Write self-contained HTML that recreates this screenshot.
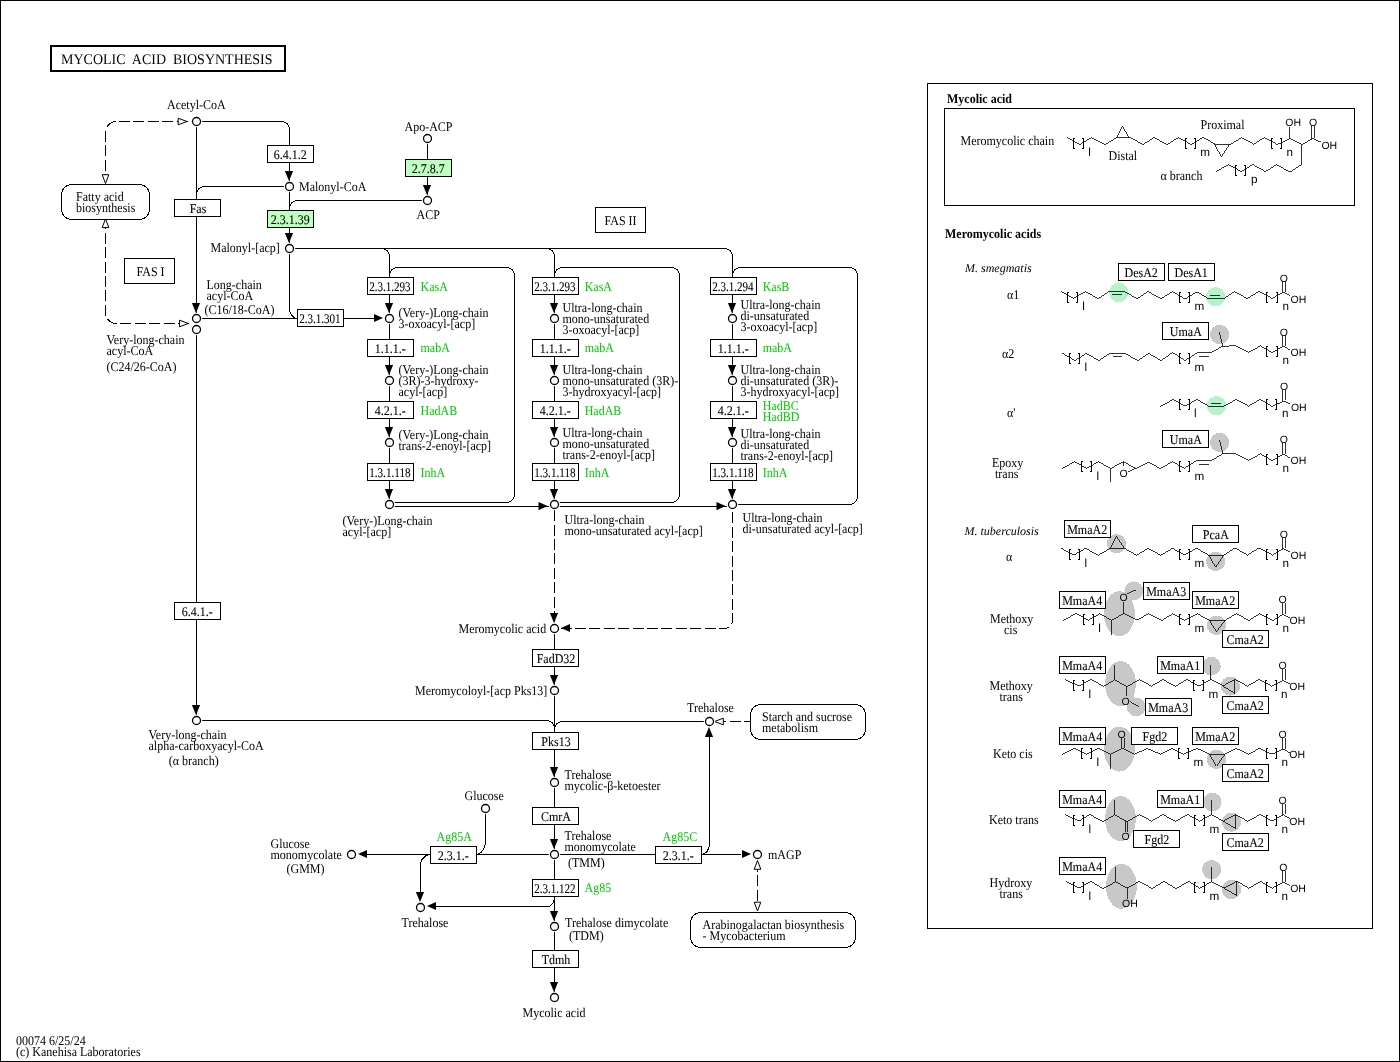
<!DOCTYPE html>
<html><head><meta charset="utf-8"><title>Mycolic acid biosynthesis</title>
<style>
html,body{margin:0;padding:0;background:#fff}
svg{display:block;will-change:transform}
text{font-family:"Liberation Serif",serif;font-size:12px;fill:#000;text-rendering:geometricPrecision}
.ti{font-size:14px}
.b{stroke:#000;stroke-width:0.08px}
.g{fill:#00cc00}
.bd{font-weight:bold}
.it{font-style:italic}
.s{font-family:"Liberation Sans",sans-serif;font-size:10.5px}
</style></head><body>
<svg width="1400" height="1062" viewBox="0 0 1400 1062" shape-rendering="crispEdges">
<rect x="0.5" y="0.5" width="1399" height="1061" fill="#fff" stroke="#000"/>
<rect x="51" y="46" width="234" height="25" fill="#fff" stroke="#000" stroke-width="2"/>
<text transform="translate(61,63.5) scale(1,1.05)" class="ti" xml:space="preserve" style="white-space:pre">MYCOLIC  ACID  BIOSYNTHESIS</text>
<text transform="translate(16,1045) scale(1,1.1)">00074 6/25/24</text>
<text transform="translate(16,1056) scale(1,1.1)">(c) Kanehisa Laboratories</text>
<path d="M187.5,121.5 L116.50,121.50 A11,11 0 0 0 105.50,132.50 L105.5,175" fill="none" stroke="#000" stroke-dasharray="11,3.4"/>
<polygon points="187.0,121.5 178.2,118.2 178.2,124.8" fill="#fff" stroke="#000" shape-rendering="geometricPrecision"/>
<polygon points="105.5,183.5 102.2,174.7 108.8,174.7" fill="#fff" stroke="#000" shape-rendering="geometricPrecision"/>
<path d="M189,323.5 L116.50,323.50 A11,11 0 0 1 105.50,312.50 L105.5,227" fill="none" stroke="#000" stroke-dasharray="11,3.4"/>
<polygon points="105.5,218.8 102.2,227.60000000000002 108.8,227.60000000000002" fill="#fff" stroke="#000" shape-rendering="geometricPrecision"/>
<polygon points="188.3,323.5 179.5,320.2 179.5,326.8" fill="#fff" stroke="#000" shape-rendering="geometricPrecision"/>
<rect x="61.5" y="184.5" width="88" height="35" rx="10" ry="10" fill="#fff" stroke="#000"/>
<text transform="translate(76,201) scale(1,1.1)">Fatty acid</text>
<text transform="translate(76,212) scale(1,1.1)">biosynthesis</text>
<path d="M196.5,121.5 L281.50,121.50 A8,8 0 0 1 289.50,129.50 L289.5,146" fill="none" stroke="#000"/>
<path d="M289.5,162 L289.5,182" fill="none" stroke="#000"/>
<path d="M196.5,121.5 L196.5,314" fill="none" stroke="#000"/>
<path d="M289.5,186.5 L204.50,186.50 A8,8 0 0 0 196.50,194.50 L196.5,200" fill="none" stroke="#000"/>
<path d="M289.5,186.5 L289.5,211" fill="none" stroke="#000"/>
<path d="M427.5,200.5 L297.50,200.50 A8,8 0 0 0 289.50,208.50 L289.5,211" fill="none" stroke="#000"/>
<path d="M427.5,138.5 L427.5,196" fill="none" stroke="#000"/>
<path d="M289.5,227 L289.5,244" fill="none" stroke="#000"/>
<path d="M289.5,248.5 L724.50,248.50 A8,8 0 0 1 732.50,256.50 L732.5,278" fill="none" stroke="#000"/>
<path d="M380,248.5 L381.50,248.50 A8,8 0 0 1 389.50,256.50 L389.5,278" fill="none" stroke="#000"/>
<path d="M545,248.5 L546.50,248.50 A8,8 0 0 1 554.50,256.50 L554.5,278" fill="none" stroke="#000"/>
<path d="M289.5,248.5 L289.50,308.50 A8,10 0 0 0 297.50,318.50 L305,318.5" fill="none" stroke="#000"/>
<path d="M196.5,318.5 L297,318.5" fill="none" stroke="#000"/>
<path d="M343,318.5 L380,318.5" fill="none" stroke="#000"/>
<path d="M196.5,329.5 L196.5,716" fill="none" stroke="#000"/>
<polygon points="289.0,181.0 284.9,171.0 293.1,171.0" fill="#000" shape-rendering="geometricPrecision"/>
<polygon points="196.0,313.0 191.9,303.0 200.1,303.0" fill="#000" shape-rendering="geometricPrecision"/>
<polygon points="427.0,195.0 422.9,185.0 431.1,185.0" fill="#000" shape-rendering="geometricPrecision"/>
<polygon points="289.0,243.0 284.9,233.0 293.1,233.0" fill="#000" shape-rendering="geometricPrecision"/>
<polygon points="383.0,318.0 374.0,313.9 374.0,322.1" fill="#000" shape-rendering="geometricPrecision"/>
<rect x="267.5" y="145.5" width="46" height="17" fill="#fff" stroke="#000"/>
<text class="b" text-anchor="middle" transform="translate(290.3,159.0) scale(1.000,1.1)">6.4.1.2</text>
<rect x="174.5" y="199.5" width="46" height="17" fill="#fff" stroke="#000"/>
<text class="b" text-anchor="middle" transform="translate(198.0,213.0) scale(1.000,1.1)">Fas</text>
<rect x="267.5" y="210.5" width="46" height="17" fill="#bfffbf" stroke="#000"/>
<text class="b" text-anchor="middle" transform="translate(290.3,224.0) scale(1.000,1.1)">2.3.1.39</text>
<rect x="405.5" y="159.5" width="46" height="17" fill="#bfffbf" stroke="#000"/>
<text class="b" text-anchor="middle" transform="translate(428.3,173.0) scale(1.000,1.1)">2.7.8.7</text>
<rect x="297.5" y="309.5" width="46" height="17" fill="#fff" stroke="#000"/>
<text class="b" text-anchor="middle" transform="translate(319.9,323.0) scale(0.922,1.1)">2.3.1.301</text>
<rect x="124.5" y="258.5" width="50" height="25" fill="#fff" stroke="#000"/>
<text transform="translate(136.5,275.5) scale(1,1.1)">FAS I</text>
<rect x="595.5" y="207.5" width="50" height="25" fill="#fff" stroke="#000"/>
<text transform="translate(604.5,224.5) scale(1,1.1)">FAS II</text>
<text transform="translate(167,109) scale(1,1.1)">Acetyl-CoA</text>
<text transform="translate(404.5,131) scale(1,1.1)">Apo-ACP</text>
<text transform="translate(416.5,218.5) scale(1,1.1)">ACP</text>
<text transform="translate(299,190.5) scale(1,1.1)">Malonyl-CoA</text>
<text transform="translate(210.5,251.5) scale(1,1.1)">Malonyl-[acp]</text>
<text transform="translate(206.5,288.5) scale(1,1.1)">Long-chain</text>
<text transform="translate(206.5,299.5) scale(1,1.1)">acyl-CoA</text>
<text transform="translate(204.5,313.5) scale(1,1.1)">(C16/18-CoA)</text>
<text transform="translate(106.5,343.5) scale(1,1.1)">Very-long-chain</text>
<text transform="translate(106.5,354.5) scale(1,1.1)">acyl-CoA</text>
<text transform="translate(106.5,371) scale(1,1.1)">(C24/26-CoA)</text>
<path d="M389.5,278 L389.50,275.50 A8,8 0 0 1 397.50,267.50 L506.50,267.50 A8,8 0 0 1 514.50,275.50 L514.50,494.50 A8,8 0 0 1 506.50,502.50 L389.5,502.5" fill="none" stroke="#000"/>
<path d="M389.5,294 L389.5,504.5" fill="none" stroke="#000"/>
<polygon points="389.0,313.0 384.9,303.0 393.1,303.0" fill="#000" shape-rendering="geometricPrecision"/>
<polygon points="389.0,375.0 384.9,365.0 393.1,365.0" fill="#000" shape-rendering="geometricPrecision"/>
<polygon points="389.0,437.0 384.9,427.0 393.1,427.0" fill="#000" shape-rendering="geometricPrecision"/>
<polygon points="389.0,499.0 384.9,489.0 393.1,489.0" fill="#000" shape-rendering="geometricPrecision"/>
<path d="M554.5,278 L554.50,275.50 A8,8 0 0 1 562.50,267.50 L671.50,267.50 A8,8 0 0 1 679.50,275.50 L679.50,494.50 A8,8 0 0 1 671.50,502.50 L554.5,502.5" fill="none" stroke="#000"/>
<path d="M554.5,294 L554.5,504.5" fill="none" stroke="#000"/>
<polygon points="554.0,313.0 549.9,303.0 558.1,303.0" fill="#000" shape-rendering="geometricPrecision"/>
<polygon points="554.0,375.0 549.9,365.0 558.1,365.0" fill="#000" shape-rendering="geometricPrecision"/>
<polygon points="554.0,437.0 549.9,427.0 558.1,427.0" fill="#000" shape-rendering="geometricPrecision"/>
<polygon points="554.0,499.0 549.9,489.0 558.1,489.0" fill="#000" shape-rendering="geometricPrecision"/>
<path d="M732.5,278 L732.50,275.50 A8,8 0 0 1 740.50,267.50 L849.50,267.50 A8,8 0 0 1 857.50,275.50 L857.50,496.50 A8,8 0 0 1 849.50,504.50 L732.5,504.5" fill="none" stroke="#000"/>
<path d="M732.5,294 L732.5,504.5" fill="none" stroke="#000"/>
<polygon points="732.0,313.0 727.9,303.0 736.1,303.0" fill="#000" shape-rendering="geometricPrecision"/>
<polygon points="732.0,375.0 727.9,365.0 736.1,365.0" fill="#000" shape-rendering="geometricPrecision"/>
<polygon points="732.0,437.0 727.9,427.0 736.1,427.0" fill="#000" shape-rendering="geometricPrecision"/>
<polygon points="732.0,499.0 727.9,489.0 736.1,489.0" fill="#000" shape-rendering="geometricPrecision"/>
<path d="M389.5,506.5 L548.5,506.5" fill="none" stroke="#000"/>
<polygon points="547.5,506.1 538.5,502.0 538.5,510.20000000000005" fill="#000" shape-rendering="geometricPrecision"/>
<path d="M554.5,506.5 L726.5,506.5" fill="none" stroke="#000"/>
<polygon points="725.5,506.1 716.5,502.0 716.5,510.20000000000005" fill="#000" shape-rendering="geometricPrecision"/>
<rect x="367.5" y="277.5" width="46" height="17" fill="#fff" stroke="#000"/>
<text class="b" text-anchor="middle" transform="translate(389.9,291.0) scale(0.922,1.1)">2.3.1.293</text>
<rect x="367.5" y="339.5" width="46" height="17" fill="#fff" stroke="#000"/>
<text class="b" text-anchor="middle" transform="translate(390.3,353.0) scale(1.000,1.1)">1.1.1.-</text>
<rect x="367.5" y="401.5" width="46" height="17" fill="#fff" stroke="#000"/>
<text class="b" text-anchor="middle" transform="translate(390.3,415.0) scale(1.000,1.1)">4.2.1.-</text>
<rect x="367.5" y="463.5" width="46" height="17" fill="#fff" stroke="#000"/>
<text class="b" text-anchor="middle" transform="translate(389.9,477.0) scale(0.931,1.1)">1.3.1.118</text>
<rect x="532.5" y="277.5" width="46" height="17" fill="#fff" stroke="#000"/>
<text class="b" text-anchor="middle" transform="translate(554.9,291.0) scale(0.922,1.1)">2.3.1.293</text>
<rect x="532.5" y="339.5" width="46" height="17" fill="#fff" stroke="#000"/>
<text class="b" text-anchor="middle" transform="translate(555.3,353.0) scale(1.000,1.1)">1.1.1.-</text>
<rect x="532.5" y="401.5" width="46" height="17" fill="#fff" stroke="#000"/>
<text class="b" text-anchor="middle" transform="translate(555.3,415.0) scale(1.000,1.1)">4.2.1.-</text>
<rect x="532.5" y="463.5" width="46" height="17" fill="#fff" stroke="#000"/>
<text class="b" text-anchor="middle" transform="translate(554.9,477.0) scale(0.931,1.1)">1.3.1.118</text>
<rect x="710.5" y="277.5" width="46" height="17" fill="#fff" stroke="#000"/>
<text class="b" text-anchor="middle" transform="translate(732.9,291.0) scale(0.922,1.1)">2.3.1.294</text>
<rect x="710.5" y="339.5" width="46" height="17" fill="#fff" stroke="#000"/>
<text class="b" text-anchor="middle" transform="translate(733.3,353.0) scale(1.000,1.1)">1.1.1.-</text>
<rect x="710.5" y="401.5" width="46" height="17" fill="#fff" stroke="#000"/>
<text class="b" text-anchor="middle" transform="translate(733.3,415.0) scale(1.000,1.1)">4.2.1.-</text>
<rect x="710.5" y="463.5" width="46" height="17" fill="#fff" stroke="#000"/>
<text class="b" text-anchor="middle" transform="translate(732.9,477.0) scale(0.931,1.1)">1.3.1.118</text>
<text transform="translate(420.5,290.5) scale(1,1.1)" class="g">KasA</text>
<text transform="translate(420.5,351.5) scale(1,1.1)" class="g">mabA</text>
<text transform="translate(420.5,414.5) scale(1,1.1)" class="g">HadAB</text>
<text transform="translate(420.5,476.5) scale(1,1.1)" class="g">InhA</text>
<text transform="translate(584.7,290.5) scale(1,1.1)" class="g">KasA</text>
<text transform="translate(584.7,351.5) scale(1,1.1)" class="g">mabA</text>
<text transform="translate(584.7,414.5) scale(1,1.1)" class="g">HadAB</text>
<text transform="translate(584.7,476.5) scale(1,1.1)" class="g">InhA</text>
<text transform="translate(762.7,290.5) scale(1,1.1)" class="g">KasB</text>
<text transform="translate(762.7,351.5) scale(1,1.1)" class="g">mabA</text>
<text transform="translate(762.7,476.5) scale(1,1.1)" class="g">InhA</text>
<text transform="translate(762.7,410) scale(1,1.1)" class="g">HadBC</text>
<text transform="translate(762.7,421) scale(1,1.1)" class="g">HadBD</text>
<text transform="translate(398.5,317) scale(1,1.1)">(Very-)Long-chain</text>
<text transform="translate(398.5,328) scale(1,1.1)">3-oxoacyl-[acp]</text>
<text transform="translate(398.5,374) scale(1,1.1)">(Very-)Long-chain</text>
<text transform="translate(398.5,385) scale(1,1.1)">(3R)-3-hydroxy-</text>
<text transform="translate(398.5,396) scale(1,1.1)">acyl-[acp]</text>
<text transform="translate(398.5,438.5) scale(1,1.1)">(Very-)Long-chain</text>
<text transform="translate(398.5,449.5) scale(1,1.1)">trans-2-enoyl-[acp]</text>
<text transform="translate(342.5,524.5) scale(1,1.1)">(Very-)Long-chain</text>
<text transform="translate(342.5,535.5) scale(1,1.1)">acyl-[acp]</text>
<text transform="translate(562.5,312) scale(1,1.1)">Ultra-long-chain</text>
<text transform="translate(562.5,323) scale(1,1.1)">mono-unsaturated</text>
<text transform="translate(562.5,334) scale(1,1.1)">3-oxoacyl-[acp]</text>
<text transform="translate(562.5,374) scale(1,1.1)">Ultra-long-chain</text>
<text transform="translate(562.5,385) scale(1,1.1)">mono-unsaturated (3R)-</text>
<text transform="translate(562.5,396) scale(1,1.1)">3-hydroxyacyl-[acp]</text>
<text transform="translate(562.5,437) scale(1,1.1)">Ultra-long-chain</text>
<text transform="translate(562.5,448) scale(1,1.1)">mono-unsaturated</text>
<text transform="translate(562.5,459) scale(1,1.1)">trans-2-enoyl-[acp]</text>
<text transform="translate(564.5,524) scale(1,1.1)">Ultra-long-chain</text>
<text transform="translate(564.5,535) scale(1,1.1)">mono-unsaturated acyl-[acp]</text>
<text transform="translate(740.5,309) scale(1,1.1)">Ultra-long-chain</text>
<text transform="translate(740.5,320) scale(1,1.1)">di-unsaturated</text>
<text transform="translate(740.5,331) scale(1,1.1)">3-oxoacyl-[acp]</text>
<text transform="translate(740.5,374) scale(1,1.1)">Ultra-long-chain</text>
<text transform="translate(740.5,385) scale(1,1.1)">di-unsaturated (3R)-</text>
<text transform="translate(740.5,396) scale(1,1.1)">3-hydroxyacyl-[acp]</text>
<text transform="translate(740.5,437.5) scale(1,1.1)">Ultra-long-chain</text>
<text transform="translate(740.5,448.5) scale(1,1.1)">di-unsaturated</text>
<text transform="translate(740.5,459.5) scale(1,1.1)">trans-2-enoyl-[acp]</text>
<text transform="translate(742.5,522) scale(1,1.1)">Ultra-long-chain</text>
<text transform="translate(742.5,533) scale(1,1.1)">di-unsaturated acyl-[acp]</text>
<path d="M554.5,622 L554.5,509" fill="none" stroke="#000" stroke-dasharray="11,3.4"/>
<path d="M560.5,628.5 L724.50,628.50 A8,8 0 0 0 732.50,620.50 L732.5,509" fill="none" stroke="#000" stroke-dasharray="11,3.4"/>
<polygon points="554.0,623.0 549.9,613.0 558.1,613.0" fill="#000" shape-rendering="geometricPrecision"/>
<polygon points="561.0,628.0 570.0,623.9 570.0,632.1" fill="#000" shape-rendering="geometricPrecision"/>
<path d="M554.5,628.5 L554.5,686" fill="none" stroke="#000"/>
<polygon points="554.0,685.0 549.9,675.0 558.1,675.0" fill="#000" shape-rendering="geometricPrecision"/>
<path d="M554.5,690.5 L554.5,733" fill="none" stroke="#000"/>
<path d="M196.5,720.5 L546.50,720.50 A8,8 0 0 1 554.50,728.50 L554.5,733" fill="none" stroke="#000"/>
<path d="M709.5,721.5 L562.50,721.50 A8,8 0 0 0 554.50,729.50 L554.5,733" fill="none" stroke="#000"/>
<path d="M554.5,749 L554.5,778" fill="none" stroke="#000"/>
<polygon points="554.0,777.0 549.9,767.0 558.1,767.0" fill="#000" shape-rendering="geometricPrecision"/>
<path d="M554.5,782.5 L554.5,850" fill="none" stroke="#000"/>
<polygon points="554.0,849.0 549.9,839.0 558.1,839.0" fill="#000" shape-rendering="geometricPrecision"/>
<path d="M554.5,854.5 L554.5,922" fill="none" stroke="#000"/>
<polygon points="554.0,921.0 549.9,911.0 558.1,911.0" fill="#000" shape-rendering="geometricPrecision"/>
<path d="M554.5,926.5 L554.5,993" fill="none" stroke="#000"/>
<polygon points="554.0,992.0 549.9,982.0 558.1,982.0" fill="#000" shape-rendering="geometricPrecision"/>
<polygon points="196.0,715.0 191.9,705.0 200.1,705.0" fill="#000" shape-rendering="geometricPrecision"/>
<path d="M367,854.5 L741,854.5" fill="none" stroke="#000"/>
<polygon points="358.0,854.0 367.0,849.9 367.0,858.1" fill="#000" shape-rendering="geometricPrecision"/>
<polygon points="751.0,854.0 742.0,849.9 742.0,858.1" fill="#000" shape-rendering="geometricPrecision"/>
<path d="M485.5,808.5 L485.50,841.50 A10,13 0 0 1 475.50,854.50 L470,854.5" fill="none" stroke="#000"/>
<path d="M436,854.5 L431.00,854.50 A10.5,10.5 0 0 0 420.50,865.00 L420.5,892" fill="none" stroke="#000"/>
<polygon points="420.0,902.0 415.9,892.0 424.1,892.0" fill="#000" shape-rendering="geometricPrecision"/>
<path d="M554.5,894 L554.50,896.50 A6.5,10 0 0 1 548.00,906.50 L435,906.5" fill="none" stroke="#000"/>
<polygon points="427.0,906.0 436.0,901.9 436.0,910.1" fill="#000" shape-rendering="geometricPrecision"/>
<path d="M695,854.5 L701.00,854.50 A8.5,10.5 0 0 0 709.50,844.00 L709.5,736" fill="none" stroke="#000"/>
<polygon points="709.0,727.0 704.9,737.0 713.1,737.0" fill="#000" shape-rendering="geometricPrecision"/>
<path d="M715.4,721.5 L750,721.5" fill="none" stroke="#000" stroke-dasharray="11,3.4"/>
<polygon points="714.5,721.5 723.3,718.2 723.3,724.8" fill="#fff" stroke="#000" shape-rendering="geometricPrecision"/>
<path d="M757.5,861 L757.5,902" fill="none" stroke="#000" stroke-dasharray="11,3.4"/>
<polygon points="757.5,860.5 754.2,869.3 760.8,869.3" fill="#fff" stroke="#000" shape-rendering="geometricPrecision"/>
<polygon points="757.5,911.0 754.2,902.2 760.8,902.2" fill="#fff" stroke="#000" shape-rendering="geometricPrecision"/>
<rect x="750.5" y="704.5" width="115" height="35" rx="10" ry="10" fill="#fff" stroke="#000"/>
<text transform="translate(762,721) scale(1,1.1)">Starch and sucrose</text>
<text transform="translate(762,732) scale(1,1.1)">metabolism</text>
<rect x="690.5" y="912.5" width="165" height="35" rx="10" ry="10" fill="#fff" stroke="#000"/>
<text transform="translate(702.5,928.5) scale(1,1.1)">Arabinogalactan biosynthesis</text>
<text transform="translate(702.5,939.5) scale(1,1.1)">- Mycobacterium</text>
<rect x="174.5" y="602.5" width="46" height="17" fill="#fff" stroke="#000"/>
<text class="b" text-anchor="middle" transform="translate(197.3,616.0) scale(1.000,1.1)">6.4.1.-</text>
<rect x="532.5" y="649.5" width="46" height="17" fill="#fff" stroke="#000"/>
<text class="b" text-anchor="middle" transform="translate(556.0,663.0) scale(1.000,1.1)">FadD32</text>
<rect x="532.5" y="732.5" width="46" height="17" fill="#fff" stroke="#000"/>
<text class="b" text-anchor="middle" transform="translate(556.0,746.0) scale(1.000,1.1)">Pks13</text>
<rect x="532.5" y="807.5" width="46" height="17" fill="#fff" stroke="#000"/>
<text class="b" text-anchor="middle" transform="translate(556.0,821.0) scale(1.000,1.1)">CmrA</text>
<rect x="532.5" y="879.5" width="46" height="17" fill="#fff" stroke="#000"/>
<text class="b" text-anchor="middle" transform="translate(554.9,893.0) scale(0.922,1.1)">2.3.1.122</text>
<rect x="532.5" y="950.5" width="46" height="17" fill="#fff" stroke="#000"/>
<text class="b" text-anchor="middle" transform="translate(556.0,964.0) scale(1.000,1.1)">Tdmh</text>
<rect x="430.5" y="846.5" width="46" height="17" fill="#fff" stroke="#000"/>
<text class="b" text-anchor="middle" transform="translate(453.3,860.0) scale(1.000,1.1)">2.3.1.-</text>
<rect x="655.5" y="846.5" width="46" height="17" fill="#fff" stroke="#000"/>
<text class="b" text-anchor="middle" transform="translate(678.3,860.0) scale(1.000,1.1)">2.3.1.-</text>
<text transform="translate(458.5,632.5) scale(1,1.1)">Meromycolic acid</text>
<text transform="translate(415,694.5) scale(1,1.1)">Meromycoloyl-[acp Pks13]</text>
<text transform="translate(148.5,738.5) scale(1,1.1)">Very-long-chain</text>
<text transform="translate(148.5,749.5) scale(1,1.1)">alpha-carboxyacyl-CoA</text>
<text transform="translate(168.7,764.5) scale(1,1.1)">(α branch)</text>
<text transform="translate(687,712) scale(1,1.1)">Trehalose</text>
<text transform="translate(564.5,778.5) scale(1,1.1)">Trehalose</text>
<text transform="translate(564.5,789.5) scale(1,1.1)">mycolic-β-ketoester</text>
<text transform="translate(564.5,839.5) scale(1,1.1)">Trehalose</text>
<text transform="translate(564.5,850.5) scale(1,1.1)">monomycolate</text>
<text transform="translate(568,866.5) scale(1,1.1)">(TMM)</text>
<text transform="translate(464.5,799.5) scale(1,1.1)">Glucose</text>
<text transform="translate(436.5,840.5) scale(1,1.1)" class="g">Ag85A</text>
<text transform="translate(662.5,840.5) scale(1,1.1)" class="g">Ag85C</text>
<text transform="translate(584.5,891.5) scale(1,1.1)" class="g">Ag85</text>
<text transform="translate(270.5,847.5) scale(1,1.1)">Glucose</text>
<text transform="translate(270.5,858.5) scale(1,1.1)">monomycolate</text>
<text transform="translate(286.5,872.5) scale(1,1.1)">(GMM)</text>
<text transform="translate(401.5,926.5) scale(1,1.1)">Trehalose</text>
<text transform="translate(768,858.5) scale(1,1.1)">mAGP</text>
<text transform="translate(565,927) scale(1,1.1)">Trehalose dimycolate</text>
<text transform="translate(569,940) scale(1,1.1)">(TDM)</text>
<text transform="translate(522.5,1016.5) scale(1,1.1)">Mycolic acid</text>
<circle cx="196.5" cy="121.5" r="5.7" fill="#fff" shape-rendering="geometricPrecision"/>
<circle cx="196.5" cy="121.5" r="4" fill="#fff" stroke="#000" stroke-width="1.3" shape-rendering="geometricPrecision"/>
<circle cx="289.5" cy="186.5" r="5.7" fill="#fff" shape-rendering="geometricPrecision"/>
<circle cx="289.5" cy="186.5" r="4" fill="#fff" stroke="#000" stroke-width="1.3" shape-rendering="geometricPrecision"/>
<circle cx="427.5" cy="138.5" r="5.7" fill="#fff" shape-rendering="geometricPrecision"/>
<circle cx="427.5" cy="138.5" r="4" fill="#fff" stroke="#000" stroke-width="1.3" shape-rendering="geometricPrecision"/>
<circle cx="427.5" cy="200.5" r="5.7" fill="#fff" shape-rendering="geometricPrecision"/>
<circle cx="427.5" cy="200.5" r="4" fill="#fff" stroke="#000" stroke-width="1.3" shape-rendering="geometricPrecision"/>
<circle cx="289.5" cy="248.5" r="5.7" fill="#fff" shape-rendering="geometricPrecision"/>
<circle cx="289.5" cy="248.5" r="4" fill="#fff" stroke="#000" stroke-width="1.3" shape-rendering="geometricPrecision"/>
<circle cx="196.5" cy="318.5" r="5.7" fill="#fff" shape-rendering="geometricPrecision"/>
<circle cx="196.5" cy="318.5" r="4" fill="#fff" stroke="#000" stroke-width="1.3" shape-rendering="geometricPrecision"/>
<circle cx="196.5" cy="329.5" r="5.7" fill="#fff" shape-rendering="geometricPrecision"/>
<circle cx="196.5" cy="329.5" r="4" fill="#fff" stroke="#000" stroke-width="1.3" shape-rendering="geometricPrecision"/>
<circle cx="554.5" cy="628.5" r="5.7" fill="#fff" shape-rendering="geometricPrecision"/>
<circle cx="554.5" cy="628.5" r="4" fill="#fff" stroke="#000" stroke-width="1.3" shape-rendering="geometricPrecision"/>
<circle cx="554.5" cy="690.5" r="5.7" fill="#fff" shape-rendering="geometricPrecision"/>
<circle cx="554.5" cy="690.5" r="4" fill="#fff" stroke="#000" stroke-width="1.3" shape-rendering="geometricPrecision"/>
<circle cx="196.5" cy="720.5" r="5.7" fill="#fff" shape-rendering="geometricPrecision"/>
<circle cx="196.5" cy="720.5" r="4" fill="#fff" stroke="#000" stroke-width="1.3" shape-rendering="geometricPrecision"/>
<circle cx="709.5" cy="721.5" r="5.7" fill="#fff" shape-rendering="geometricPrecision"/>
<circle cx="709.5" cy="721.5" r="4" fill="#fff" stroke="#000" stroke-width="1.3" shape-rendering="geometricPrecision"/>
<circle cx="554.5" cy="782.5" r="5.7" fill="#fff" shape-rendering="geometricPrecision"/>
<circle cx="554.5" cy="782.5" r="4" fill="#fff" stroke="#000" stroke-width="1.3" shape-rendering="geometricPrecision"/>
<circle cx="485.5" cy="808.5" r="5.7" fill="#fff" shape-rendering="geometricPrecision"/>
<circle cx="485.5" cy="808.5" r="4" fill="#fff" stroke="#000" stroke-width="1.3" shape-rendering="geometricPrecision"/>
<circle cx="554.5" cy="854.5" r="5.7" fill="#fff" shape-rendering="geometricPrecision"/>
<circle cx="554.5" cy="854.5" r="4" fill="#fff" stroke="#000" stroke-width="1.3" shape-rendering="geometricPrecision"/>
<circle cx="351.5" cy="854.5" r="5.7" fill="#fff" shape-rendering="geometricPrecision"/>
<circle cx="351.5" cy="854.5" r="4" fill="#fff" stroke="#000" stroke-width="1.3" shape-rendering="geometricPrecision"/>
<circle cx="757.5" cy="854.5" r="5.7" fill="#fff" shape-rendering="geometricPrecision"/>
<circle cx="757.5" cy="854.5" r="4" fill="#fff" stroke="#000" stroke-width="1.3" shape-rendering="geometricPrecision"/>
<circle cx="420.5" cy="907.5" r="5.7" fill="#fff" shape-rendering="geometricPrecision"/>
<circle cx="420.5" cy="907.5" r="4" fill="#fff" stroke="#000" stroke-width="1.3" shape-rendering="geometricPrecision"/>
<circle cx="554.5" cy="926.5" r="5.7" fill="#fff" shape-rendering="geometricPrecision"/>
<circle cx="554.5" cy="926.5" r="4" fill="#fff" stroke="#000" stroke-width="1.3" shape-rendering="geometricPrecision"/>
<circle cx="554.5" cy="997.5" r="5.7" fill="#fff" shape-rendering="geometricPrecision"/>
<circle cx="554.5" cy="997.5" r="4" fill="#fff" stroke="#000" stroke-width="1.3" shape-rendering="geometricPrecision"/>
<circle cx="389.5" cy="318.5" r="5.7" fill="#fff" shape-rendering="geometricPrecision"/>
<circle cx="389.5" cy="318.5" r="4" fill="#fff" stroke="#000" stroke-width="1.3" shape-rendering="geometricPrecision"/>
<circle cx="389.5" cy="380.5" r="5.7" fill="#fff" shape-rendering="geometricPrecision"/>
<circle cx="389.5" cy="380.5" r="4" fill="#fff" stroke="#000" stroke-width="1.3" shape-rendering="geometricPrecision"/>
<circle cx="389.5" cy="442.5" r="5.7" fill="#fff" shape-rendering="geometricPrecision"/>
<circle cx="389.5" cy="442.5" r="4" fill="#fff" stroke="#000" stroke-width="1.3" shape-rendering="geometricPrecision"/>
<circle cx="389.5" cy="504.5" r="5.7" fill="#fff" shape-rendering="geometricPrecision"/>
<circle cx="389.5" cy="504.5" r="4" fill="#fff" stroke="#000" stroke-width="1.3" shape-rendering="geometricPrecision"/>
<circle cx="554.5" cy="318.5" r="5.7" fill="#fff" shape-rendering="geometricPrecision"/>
<circle cx="554.5" cy="318.5" r="4" fill="#fff" stroke="#000" stroke-width="1.3" shape-rendering="geometricPrecision"/>
<circle cx="554.5" cy="380.5" r="5.7" fill="#fff" shape-rendering="geometricPrecision"/>
<circle cx="554.5" cy="380.5" r="4" fill="#fff" stroke="#000" stroke-width="1.3" shape-rendering="geometricPrecision"/>
<circle cx="554.5" cy="442.5" r="5.7" fill="#fff" shape-rendering="geometricPrecision"/>
<circle cx="554.5" cy="442.5" r="4" fill="#fff" stroke="#000" stroke-width="1.3" shape-rendering="geometricPrecision"/>
<circle cx="554.5" cy="504.5" r="5.7" fill="#fff" shape-rendering="geometricPrecision"/>
<circle cx="554.5" cy="504.5" r="4" fill="#fff" stroke="#000" stroke-width="1.3" shape-rendering="geometricPrecision"/>
<circle cx="732.5" cy="318.5" r="5.7" fill="#fff" shape-rendering="geometricPrecision"/>
<circle cx="732.5" cy="318.5" r="4" fill="#fff" stroke="#000" stroke-width="1.3" shape-rendering="geometricPrecision"/>
<circle cx="732.5" cy="380.5" r="5.7" fill="#fff" shape-rendering="geometricPrecision"/>
<circle cx="732.5" cy="380.5" r="4" fill="#fff" stroke="#000" stroke-width="1.3" shape-rendering="geometricPrecision"/>
<circle cx="732.5" cy="442.5" r="5.7" fill="#fff" shape-rendering="geometricPrecision"/>
<circle cx="732.5" cy="442.5" r="4" fill="#fff" stroke="#000" stroke-width="1.3" shape-rendering="geometricPrecision"/>
<circle cx="732.5" cy="504.5" r="5.7" fill="#fff" shape-rendering="geometricPrecision"/>
<circle cx="732.5" cy="504.5" r="4" fill="#fff" stroke="#000" stroke-width="1.3" shape-rendering="geometricPrecision"/>
<rect x="927.5" y="83.5" width="445" height="845" fill="#fff" stroke="#000"/>
<rect x="944.5" y="108.5" width="410" height="97" fill="#fff" stroke="#000"/>
<text transform="translate(947,103) scale(1,1.1)" class="bd">Mycolic acid</text>
<text transform="translate(945,238) scale(1,1.1)" class="bd">Meromycolic acids</text>
<text transform="translate(960.5,145) scale(1,1.1)">Meromycolic chain</text>
<text transform="translate(1200.5,129) scale(1,1.1)">Proximal</text>
<text transform="translate(1108.5,160) scale(1,1.1)">Distal</text>
<text transform="translate(1160.5,180) scale(1,1.1)">α branch</text>
<text transform="translate(965,272) scale(1,1)" class="it">M. smegmatis</text>
<text transform="translate(964.5,535) scale(1,1)" class="it">M. tuberculosis</text>
<text transform="translate(1007,299) scale(1,1.1)">α1</text>
<text transform="translate(1002,358) scale(1,1.1)">α2</text>
<text transform="translate(1007,417) scale(1,1.1)">α'</text>
<text transform="translate(992,467) scale(1,1.1)">Epoxy</text>
<text transform="translate(995,478) scale(1,1.1)">trans</text>
<text transform="translate(1006,561) scale(1,1.1)">α</text>
<text transform="translate(990,623) scale(1,1.1)">Methoxy</text>
<text transform="translate(1004,634) scale(1,1.1)">cis</text>
<text transform="translate(989.5,690) scale(1,1.1)">Methoxy</text>
<text transform="translate(999.5,701) scale(1,1.1)">trans</text>
<text transform="translate(993,758) scale(1,1.1)">Keto cis</text>
<text transform="translate(989,824) scale(1,1.1)">Keto trans</text>
<text transform="translate(989.5,887) scale(1,1.1)">Hydroxy</text>
<text transform="translate(999.5,898) scale(1,1.1)">trans</text>
<circle cx="1118.6" cy="292.5" r="9.6" fill="#b4f5c8"/>
<circle cx="1215.6" cy="296.8" r="9.6" fill="#b4f5c8"/>
<circle cx="1219.6" cy="334.5" r="9.6" fill="#c8c8c8"/>
<circle cx="1216.5" cy="405.6" r="9.6" fill="#b4f5c8"/>
<circle cx="1219.7" cy="442.5" r="9.6" fill="#c8c8c8"/>
<circle cx="1116.5" cy="543.7" r="9.6" fill="#c8c8c8"/>
<circle cx="1215.6" cy="561.4" r="9.6" fill="#c8c8c8"/>
<ellipse cx="1119.4" cy="613.7" rx="15.4" ry="22.5" fill="#c8c8c8"/>
<circle cx="1133.8" cy="590.8" r="9.4" fill="#c8c8c8"/>
<path d="M1124,600 L1133,592" stroke="#c8c8c8" stroke-width="11" stroke-linecap="round" shape-rendering="geometricPrecision"/>
<circle cx="1216.5" cy="625.3" r="9.6" fill="#c8c8c8"/>
<ellipse cx="1120.5" cy="683.6" rx="15.4" ry="22.5" fill="#c8c8c8"/>
<circle cx="1136.2" cy="706.9" r="9.4" fill="#c8c8c8"/>
<path d="M1126,697 L1135,705" stroke="#c8c8c8" stroke-width="11" stroke-linecap="round" shape-rendering="geometricPrecision"/>
<circle cx="1211.5" cy="666.2" r="9.3" fill="#c8c8c8"/>
<circle cx="1230.4" cy="686.1" r="9.6" fill="#c8c8c8"/>
<ellipse cx="1119.4" cy="749.1" rx="15.4" ry="22.5" fill="#c8c8c8"/>
<circle cx="1216.5" cy="759.4" r="9.6" fill="#c8c8c8"/>
<ellipse cx="1120.5" cy="818.6" rx="15.4" ry="22.5" fill="#c8c8c8"/>
<circle cx="1212.3" cy="802.1" r="9.3" fill="#c8c8c8"/>
<circle cx="1231.5" cy="822.2" r="9.6" fill="#c8c8c8"/>
<ellipse cx="1121.4" cy="886.3" rx="15.4" ry="22.5" fill="#c8c8c8"/>
<circle cx="1211.6" cy="869.6" r="9.6" fill="#c8c8c8"/>
<circle cx="1231.5" cy="889.5" r="9.6" fill="#c8c8c8"/>
<path d="M1067.2,137.3 L1079.8,144.5 L1091.4,137.6 L1104.5,144.5 L1115.7,137.5 L1130.2,137.5 L1143.0,144.5 L1154.0,137.6 L1167.1,144.5 L1178.4,137.6 L1191.3,144.5 L1202.5,137.6 L1214.5,144.3 L1229.5,144.3 L1240.5,137.6 L1253.3,144.5 L1264.3,137.6 L1277.4,144.5 L1289.5,138.7 L1301.6,144.8 L1312.5,138.7 L1321.0,142.7" fill="none" stroke="#000" stroke-width="0.8"/>
<path d="M1116.8,137.5 L1122.5,126.3 L1128.9,137.5" fill="none" stroke="#000" stroke-width="0.8"/>
<path d="M1214.5,144.3 L1221.4,156.6 L1229.5,144.3" fill="none" stroke="#000" stroke-width="0.8"/>
<path d="M1289.5,138.7 L1289.5,127.1" fill="none" stroke="#000" stroke-width="0.8"/>
<text class="s" x="1285.3" y="126.0">OH</text>
<path d="M1311.4,138.7 L1311.4,126.0" fill="none" stroke="#000" stroke-width="0.8"/>
<path d="M1314.6,138.2 L1314.6,126.0" fill="none" stroke="#000" stroke-width="0.8"/>
<text class="s" x="1313.2" y="125.6" text-anchor="middle">O</text>
<text class="s" x="1321.4" y="149.0">OH</text>
<path d="M1301.6,144.8 L1301.6,164.6 L1290.0,172.1 L1276.6,164.6 L1265.4,171.6 L1252.8,164.6 L1241.3,171.6 L1228.4,164.6 L1216.1,171.6" fill="none" stroke="#000" stroke-width="0.8"/>
<path d="M1075.1,138.5 H1073.5 V148.5 H1075.1 M1081.9,138.5 H1083.5 V148.5 H1081.9" fill="none" stroke="#000"/>
<text class="s" x="1088.3" y="155.5" style="font-size:11.7px">l</text>
<path d="M1187.1,138.5 H1185.5 V148.5 H1187.1 M1193.9,138.5 H1195.5 V148.5 H1193.9" fill="none" stroke="#000"/>
<text class="s" x="1200.3" y="155.5" style="font-size:11.7px">m</text>
<path d="M1273.1,138.5 H1271.5 V148.5 H1273.1 M1279.9,138.5 H1281.5 V148.5 H1279.9" fill="none" stroke="#000"/>
<text class="s" x="1286.6" y="155.5" style="font-size:11.7px">n</text>
<path d="M1237.1,165.5 H1235.5 V175.5 H1237.1 M1243.9,165.5 H1245.5 V175.5 H1243.9" fill="none" stroke="#000"/>
<text class="s" x="1251.0" y="183.0" style="font-size:11.7px">p</text>
<path d="M1061.3,291.4 L1073.6,298.4 L1085.4,291.6 L1098.2,298.6 L1109.1,291.6 L1124.7,291.6 L1137.0,298.6 L1148.0,291.6 L1160.9,298.6 L1172.7,291.6 L1184.5,298.6 L1196.6,291.6 L1208.1,298.4 L1223.9,298.4 L1234.6,291.6 L1247.3,298.6 L1258.5,291.6 L1272.1,298.4 L1283.4,292.0" fill="none" stroke="#000" stroke-width="0.8"/>
<path d="M1111.9,294.6 L1121.8,294.6" fill="none" stroke="#000" stroke-width="0.8"/>
<path d="M1210.3,295.5 L1219.9,295.5" fill="none" stroke="#000" stroke-width="0.8"/>
<path d="M1282.3,292.0 L1282.3,281.0" fill="none" stroke="#000" stroke-width="0.8"/>
<path d="M1285.5,291.5 L1285.5,281.0" fill="none" stroke="#000" stroke-width="0.8"/>
<text class="s" x="1283.8" y="282.1" text-anchor="middle">O</text>
<path d="M1283.4,292.0 L1289.8,295.5" fill="none" stroke="#000" stroke-width="0.8"/>
<text class="s" x="1290.6" y="302.7">OH</text>
<path d="M1069.1,292.5 H1067.5 V302.5 H1069.1 M1075.9,292.5 H1077.5 V302.5 H1075.9" fill="none" stroke="#000"/>
<text class="s" x="1082.2" y="309.6" style="font-size:11.7px">l</text>
<path d="M1181.1,292.5 H1179.5 V302.5 H1181.1 M1187.9,292.5 H1189.5 V302.5 H1187.9" fill="none" stroke="#000"/>
<text class="s" x="1194.6" y="309.6" style="font-size:11.7px">m</text>
<path d="M1268.1,292.5 H1266.5 V302.5 H1268.1 M1275.9,292.5 H1277.5 V302.5 H1275.9" fill="none" stroke="#000"/>
<text class="s" x="1282.5" y="309.6" style="font-size:11.7px">n</text>
<path d="M1062.0,353.0 L1074.9,360.5 L1086.4,353.4 L1098.8,360.5 L1110.2,353.3 L1124.7,353.3 L1137.9,360.5 L1148.6,353.4 L1160.9,360.5 L1172.7,352.5 L1185.0,360.5 L1197.7,352.5 L1211.6,352.5 L1222.6,346.1 L1235.9,345.9 L1248.6,352.5 L1260.4,345.9 L1272.1,352.5 L1283.4,346.3" fill="none" stroke="#000" stroke-width="0.8"/>
<path d="M1113.2,356.5 L1121.8,356.5" fill="none" stroke="#000" stroke-width="0.8"/>
<path d="M1199.1,356.5 L1208.9,356.5" fill="none" stroke="#000" stroke-width="0.8"/>
<path d="M1222.6,346.1 L1219.4,332.1" fill="none" stroke="#000" stroke-width="0.8"/>
<path d="M1282.3,346.3 L1282.3,335.3" fill="none" stroke="#000" stroke-width="0.8"/>
<path d="M1285.5,345.8 L1285.5,335.3" fill="none" stroke="#000" stroke-width="0.8"/>
<text class="s" x="1283.8" y="335.7" text-anchor="middle">O</text>
<path d="M1283.4,346.3 L1289.8,349.8" fill="none" stroke="#000" stroke-width="0.8"/>
<text class="s" x="1290.6" y="356.3">OH</text>
<path d="M1071.1,353.5 H1069.5 V363.5 H1071.1 M1077.9,353.5 H1079.5 V363.5 H1077.9" fill="none" stroke="#000"/>
<text class="s" x="1084.4" y="370.7" style="font-size:11.7px">l</text>
<path d="M1181.1,353.5 H1179.5 V363.5 H1181.1 M1187.9,353.5 H1189.5 V363.5 H1187.9" fill="none" stroke="#000"/>
<text class="s" x="1194.6" y="370.7" style="font-size:11.7px">m</text>
<path d="M1268.1,346.5 H1266.5 V356.5 H1268.1 M1275.9,346.5 H1277.5 V356.5 H1275.9" fill="none" stroke="#000"/>
<text class="s" x="1282.5" y="363.8" style="font-size:11.7px">n</text>
<path d="M1160.3,406.6 L1172.5,399.8 L1184.7,406.3 L1196.5,399.8 L1208.1,406.3 L1223.9,406.3 L1235.5,399.8 L1248.0,406.3 L1259.5,399.8 L1271.5,406.3 L1283.7,400.6" fill="none" stroke="#000" stroke-width="0.8"/>
<path d="M1211.1,403.4 L1220.7,403.4" fill="none" stroke="#000" stroke-width="0.8"/>
<path d="M1282.6,400.6 L1282.6,389.6" fill="none" stroke="#000" stroke-width="0.8"/>
<path d="M1285.8,400.1 L1285.8,389.6" fill="none" stroke="#000" stroke-width="0.8"/>
<text class="s" x="1284.1" y="390.4" text-anchor="middle">O</text>
<path d="M1283.7,400.6 L1290.1,404.1" fill="none" stroke="#000" stroke-width="0.8"/>
<text class="s" x="1290.9" y="411.0">OH</text>
<path d="M1181.1,399.5 H1179.5 V409.5 H1181.1 M1187.9,399.5 H1189.5 V409.5 H1187.9" fill="none" stroke="#000"/>
<text class="s" x="1194.1" y="416.5" style="font-size:11.7px">l</text>
<path d="M1268.1,399.5 H1266.5 V409.5 H1268.1 M1274.9,399.5 H1276.5 V409.5 H1274.9" fill="none" stroke="#000"/>
<text class="s" x="1282.0" y="416.5" style="font-size:11.7px">n</text>
<path d="M1062.2,468.6 L1074.4,461.8 L1086.6,468.2 L1098.6,461.8 L1110.7,468.6 L1123.3,461.8 L1135.5,468.2 L1148.0,461.8 L1160.2,468.6 L1172.4,461.8 L1184.4,468.2 L1196.6,460.5 L1211.4,460.5 L1222.9,453.7 L1235.9,453.9 L1248.6,460.5 L1260.4,453.9 L1272.1,460.5 L1283.4,454.3" fill="none" stroke="#000" stroke-width="0.8"/>
<path d="M1110.7,468.6 L1110.7,481.7" fill="none" stroke="#000" stroke-width="0.8"/>
<path d="M1123.3,461.8 L1123.3,466.3" fill="none" stroke="#000" stroke-width="0.8"/>
<path d="M1135.5,468.2 L1128.4,472.0" fill="none" stroke="#000" stroke-width="0.8"/>
<text class="s" x="1123.6" y="476.8" text-anchor="middle">O</text>
<path d="M1199.1,464.6 L1208.8,464.6" fill="none" stroke="#000" stroke-width="0.8"/>
<path d="M1222.9,453.7 L1219.4,440.1" fill="none" stroke="#000" stroke-width="0.8"/>
<path d="M1282.3,454.3 L1282.3,443.3" fill="none" stroke="#000" stroke-width="0.8"/>
<path d="M1285.5,453.8 L1285.5,443.3" fill="none" stroke="#000" stroke-width="0.8"/>
<text class="s" x="1283.8" y="443.3" text-anchor="middle">O</text>
<path d="M1283.4,454.3 L1289.8,457.8" fill="none" stroke="#000" stroke-width="0.8"/>
<text class="s" x="1290.6" y="463.9">OH</text>
<path d="M1083.1,461.5 H1081.5 V471.5 H1083.1 M1089.9,461.5 H1091.5 V471.5 H1089.9" fill="none" stroke="#000"/>
<text class="s" x="1096.4" y="479.8" style="font-size:11.7px">l</text>
<path d="M1181.1,461.5 H1179.5 V471.5 H1181.1 M1187.9,461.5 H1189.5 V471.5 H1187.9" fill="none" stroke="#000"/>
<text class="s" x="1194.6" y="479.8" style="font-size:11.7px">m</text>
<path d="M1268.1,454.5 H1266.5 V464.5 H1268.1 M1275.9,454.5 H1277.5 V464.5 H1275.9" fill="none" stroke="#000"/>
<text class="s" x="1282.5" y="471.8" style="font-size:11.7px">n</text>
<path d="M1061.3,548.3 L1073.8,555.0 L1085.6,548.3 L1098.2,555.3 L1110.2,548.3 L1124.3,548.3 L1136.8,555.3 L1148.0,548.3 L1160.8,555.3 L1172.4,548.3 L1184.4,555.0 L1196.6,548.3 L1208.8,555.3 L1223.6,555.3 L1234.5,548.3 L1247.1,555.3 L1258.5,548.3 L1272.2,555.3 L1283.4,548.6" fill="none" stroke="#000" stroke-width="0.8"/>
<path d="M1110.2,548.3 L1116.6,536.4 L1124.3,548.3" fill="none" stroke="#000" stroke-width="0.8"/>
<path d="M1208.8,555.3 L1215.6,567.2 L1223.6,555.3" fill="none" stroke="#000" stroke-width="0.8"/>
<path d="M1282.3,548.6 L1282.3,537.6" fill="none" stroke="#000" stroke-width="0.8"/>
<path d="M1285.5,548.1 L1285.5,537.6" fill="none" stroke="#000" stroke-width="0.8"/>
<text class="s" x="1283.8" y="538.4" text-anchor="middle">O</text>
<path d="M1283.4,548.6 L1289.8,552.1" fill="none" stroke="#000" stroke-width="0.8"/>
<text class="s" x="1290.6" y="559.0">OH</text>
<path d="M1071.1,549.5 H1069.5 V559.5 H1071.1 M1077.9,549.5 H1079.5 V559.5 H1077.9" fill="none" stroke="#000"/>
<text class="s" x="1084.4" y="566.6" style="font-size:11.7px">l</text>
<path d="M1181.1,549.5 H1179.5 V559.5 H1181.1 M1187.9,549.5 H1189.5 V559.5 H1187.9" fill="none" stroke="#000"/>
<text class="s" x="1194.6" y="566.6" style="font-size:11.7px">m</text>
<path d="M1268.1,549.5 H1266.5 V559.5 H1268.1 M1275.9,549.5 H1277.5 V559.5 H1275.9" fill="none" stroke="#000"/>
<text class="s" x="1282.5" y="566.6" style="font-size:11.7px">n</text>
<path d="M1062.9,620.8 L1075.5,613.7 L1087.9,620.4 L1099.9,613.7 L1111.7,620.4 L1123.5,613.7 L1136.8,620.4 L1148.4,613.7 L1161.9,620.4 L1172.8,613.7 L1184.4,620.4 L1197.2,613.7 L1209.4,620.4 L1225.0,620.4 L1236.2,613.7 L1249.1,620.4 L1259.6,613.7 L1272.9,620.4 L1283.1,614.4" fill="none" stroke="#000" stroke-width="0.8"/>
<path d="M1111.7,620.4 L1111.7,634.7" fill="none" stroke="#000" stroke-width="0.8"/>
<path d="M1123.5,613.7 L1123.5,601.5" fill="none" stroke="#000" stroke-width="0.8"/>
<path d="M1127.1,593.8 L1135.9,589.9" fill="none" stroke="#000" stroke-width="0.8"/>
<text class="s" x="1123.6" y="601.0" text-anchor="middle">O</text>
<path d="M1209.4,620.4 L1216.5,631.7 L1225.0,620.4" fill="none" stroke="#000" stroke-width="0.8"/>
<path d="M1282.0,614.4 L1282.0,603.4" fill="none" stroke="#000" stroke-width="0.8"/>
<path d="M1285.2,613.9 L1285.2,603.4" fill="none" stroke="#000" stroke-width="0.8"/>
<text class="s" x="1282.7" y="603.4" text-anchor="middle">O</text>
<path d="M1283.1,614.4 L1289.5,617.9" fill="none" stroke="#000" stroke-width="0.8"/>
<text class="s" x="1289.5" y="624.0">OH</text>
<path d="M1085.1,614.5 H1083.5 V624.5 H1085.1 M1091.9,614.5 H1093.5 V624.5 H1091.9" fill="none" stroke="#000"/>
<text class="s" x="1098.3" y="631.7" style="font-size:11.7px">l</text>
<path d="M1181.1,614.5 H1179.5 V624.5 H1181.1 M1187.9,614.5 H1189.5 V624.5 H1187.9" fill="none" stroke="#000"/>
<text class="s" x="1194.6" y="631.7" style="font-size:11.7px">m</text>
<path d="M1268.1,614.5 H1266.5 V624.5 H1268.1 M1275.9,614.5 H1277.5 V624.5 H1275.9" fill="none" stroke="#000"/>
<text class="s" x="1282.5" y="631.7" style="font-size:11.7px">n</text>
<path d="M1065.2,679.5 L1078.9,686.1 L1090.5,679.5 L1102.5,686.4 L1114.3,679.7 L1126.5,686.4 L1138.5,679.5 L1150.9,686.4 L1162.9,679.5 L1175.4,686.4 L1186.9,679.5 L1198.9,686.1 L1210.5,679.7 L1222.7,686.1 L1234.5,679.5 L1246.9,686.4 L1259.0,679.5 L1271.6,686.1 L1283.1,680.4" fill="none" stroke="#000" stroke-width="0.8"/>
<path d="M1114.3,679.7 L1114.3,664.9" fill="none" stroke="#000" stroke-width="0.8"/>
<path d="M1126.5,686.4 L1126.5,696.4" fill="none" stroke="#000" stroke-width="0.8"/>
<path d="M1130.0,701.6 L1138.7,706.5" fill="none" stroke="#000" stroke-width="0.8"/>
<text class="s" x="1125.6" y="704.6" text-anchor="middle">O</text>
<path d="M1210.5,679.7 L1210.5,664.9" fill="none" stroke="#000" stroke-width="0.8"/>
<path d="M1222.7,686.1 L1234.5,693.2 L1234.5,679.5" fill="none" stroke="#000" stroke-width="0.8"/>
<path d="M1282.0,680.4 L1282.0,669.4" fill="none" stroke="#000" stroke-width="0.8"/>
<path d="M1285.2,679.9 L1285.2,669.4" fill="none" stroke="#000" stroke-width="0.8"/>
<text class="s" x="1282.5" y="669.2" text-anchor="middle">O</text>
<path d="M1283.1,680.4 L1289.5,683.9" fill="none" stroke="#000" stroke-width="0.8"/>
<text class="s" x="1289.3" y="689.8">OH</text>
<path d="M1075.1,680.5 H1073.5 V690.5 H1075.1 M1081.9,680.5 H1083.5 V690.5 H1081.9" fill="none" stroke="#000"/>
<text class="s" x="1088.4" y="697.7" style="font-size:11.7px">l</text>
<path d="M1195.1,680.5 H1193.5 V690.5 H1195.1 M1201.9,680.5 H1203.5 V690.5 H1201.9" fill="none" stroke="#000"/>
<text class="s" x="1208.6" y="697.7" style="font-size:11.7px">m</text>
<path d="M1267.1,680.5 H1265.5 V690.5 H1267.1 M1274.9,680.5 H1276.5 V690.5 H1274.9" fill="none" stroke="#000"/>
<text class="s" x="1281.0" y="697.7" style="font-size:11.7px">n</text>
<path d="M1062.2,754.6 L1074.4,748.4 L1086.6,754.2 L1098.6,748.4 L1110.7,754.2 L1122.6,748.4 L1134.9,754.2 L1147.1,748.4 L1160.2,754.2 L1172.1,748.4 L1183.7,754.2 L1197.2,748.4 L1209.4,754.2 L1225.0,754.2 L1236.2,748.4 L1248.4,754.2 L1259.6,748.4 L1272.0,754.2 L1283.1,749.1" fill="none" stroke="#000" stroke-width="0.8"/>
<path d="M1110.7,754.2 L1110.7,768.7" fill="none" stroke="#000" stroke-width="0.8"/>
<path d="M1121.1,748.4 L1121.1,738.1" fill="none" stroke="#000" stroke-width="0.8"/>
<path d="M1124.3,748.4 L1124.3,738.1" fill="none" stroke="#000" stroke-width="0.8"/>
<text class="s" x="1121.5" y="737.9" text-anchor="middle">O</text>
<path d="M1209.4,754.2 L1216.5,766.4 L1225.0,754.2" fill="none" stroke="#000" stroke-width="0.8"/>
<path d="M1282.0,749.1 L1282.0,738.1" fill="none" stroke="#000" stroke-width="0.8"/>
<path d="M1285.2,748.6 L1285.2,738.1" fill="none" stroke="#000" stroke-width="0.8"/>
<text class="s" x="1282.5" y="737.6" text-anchor="middle">O</text>
<path d="M1283.1,749.1 L1289.5,752.6" fill="none" stroke="#000" stroke-width="0.8"/>
<text class="s" x="1289.3" y="758.2">OH</text>
<path d="M1083.1,748.5 H1081.5 V758.5 H1083.1 M1089.9,748.5 H1091.5 V758.5 H1089.9" fill="none" stroke="#000"/>
<text class="s" x="1096.4" y="765.8" style="font-size:11.7px">l</text>
<path d="M1180.1,748.5 H1178.5 V758.5 H1180.1 M1186.9,748.5 H1188.5 V758.5 H1186.9" fill="none" stroke="#000"/>
<text class="s" x="1193.6" y="765.8" style="font-size:11.7px">m</text>
<path d="M1268.1,748.5 H1266.5 V758.5 H1268.1 M1274.9,748.5 H1276.5 V758.5 H1274.9" fill="none" stroke="#000"/>
<text class="s" x="1281.5" y="765.8" style="font-size:11.7px">n</text>
<path d="M1065.2,814.5 L1078.9,821.1 L1089.9,814.5 L1102.5,821.4 L1114.3,814.7 L1126.5,821.4 L1138.5,814.5 L1150.9,821.4 L1162.9,814.5 L1175.4,821.4 L1187.6,814.5 L1199.6,821.1 L1211.4,814.7 L1223.4,821.1 L1235.6,814.5 L1247.8,821.4 L1260.0,814.5 L1272.0,821.1 L1283.1,814.7" fill="none" stroke="#000" stroke-width="0.8"/>
<path d="M1114.3,814.7 L1114.3,799.9" fill="none" stroke="#000" stroke-width="0.8"/>
<path d="M1125.0,821.4 L1125.0,832.1" fill="none" stroke="#000" stroke-width="0.8"/>
<path d="M1127.9,821.4 L1127.9,832.1" fill="none" stroke="#000" stroke-width="0.8"/>
<text class="s" x="1125.6" y="839.8" text-anchor="middle">O</text>
<path d="M1211.4,814.7 L1211.4,799.9" fill="none" stroke="#000" stroke-width="0.8"/>
<path d="M1223.4,821.1 L1235.6,828.6 L1235.6,814.5" fill="none" stroke="#000" stroke-width="0.8"/>
<path d="M1282.0,814.7 L1282.0,803.7" fill="none" stroke="#000" stroke-width="0.8"/>
<path d="M1285.2,814.2 L1285.2,803.7" fill="none" stroke="#000" stroke-width="0.8"/>
<text class="s" x="1282.5" y="804.4" text-anchor="middle">O</text>
<path d="M1283.1,814.7 L1289.5,818.2" fill="none" stroke="#000" stroke-width="0.8"/>
<text class="s" x="1289.3" y="825.0">OH</text>
<path d="M1075.1,815.5 H1073.5 V825.5 H1075.1 M1081.9,815.5 H1083.5 V825.5 H1081.9" fill="none" stroke="#000"/>
<text class="s" x="1088.4" y="832.7" style="font-size:11.7px">l</text>
<path d="M1196.1,815.5 H1194.5 V825.5 H1196.1 M1202.9,815.5 H1204.5 V825.5 H1202.9" fill="none" stroke="#000"/>
<text class="s" x="1209.6" y="832.7" style="font-size:11.7px">m</text>
<path d="M1268.1,815.5 H1266.5 V825.5 H1268.1 M1274.9,815.5 H1276.5 V825.5 H1274.9" fill="none" stroke="#000"/>
<text class="s" x="1281.5" y="832.7" style="font-size:11.7px">n</text>
<path d="M1066.1,881.4 L1078.9,888.2 L1090.8,881.4 L1103.0,888.6 L1115.6,881.8 L1127.1,888.2 L1139.4,881.4 L1152.2,888.6 L1163.8,881.4 L1176.0,888.6 L1188.6,881.4 L1199.8,888.2 L1211.4,881.8 L1224.0,888.2 L1236.5,881.4 L1248.2,888.6 L1260.6,881.4 L1272.2,888.2 L1283.8,882.2" fill="none" stroke="#000" stroke-width="0.8"/>
<path d="M1115.6,881.8 L1115.6,867.0" fill="none" stroke="#000" stroke-width="0.8"/>
<path d="M1127.1,888.2 L1127.1,898.5" fill="none" stroke="#000" stroke-width="0.8"/>
<text class="s" x="1122.0" y="906.9">OH</text>
<path d="M1211.4,881.8 L1211.4,867.0" fill="none" stroke="#000" stroke-width="0.8"/>
<path d="M1224.0,888.2 L1236.5,895.5 L1236.5,881.4" fill="none" stroke="#000" stroke-width="0.8"/>
<path d="M1282.7,882.2 L1282.7,871.2" fill="none" stroke="#000" stroke-width="0.8"/>
<path d="M1285.9,881.7 L1285.9,871.2" fill="none" stroke="#000" stroke-width="0.8"/>
<text class="s" x="1283.4" y="871.1" text-anchor="middle">O</text>
<path d="M1283.8,882.2 L1290.2,885.7" fill="none" stroke="#000" stroke-width="0.8"/>
<text class="s" x="1290.2" y="891.7">OH</text>
<path d="M1075.1,882.5 H1073.5 V892.5 H1075.1 M1081.9,882.5 H1083.5 V892.5 H1081.9" fill="none" stroke="#000"/>
<text class="s" x="1088.4" y="899.8" style="font-size:11.7px">l</text>
<path d="M1196.1,882.5 H1194.5 V892.5 H1196.1 M1202.9,882.5 H1204.5 V892.5 H1202.9" fill="none" stroke="#000"/>
<text class="s" x="1209.6" y="899.8" style="font-size:11.7px">m</text>
<path d="M1268.1,882.5 H1266.5 V892.5 H1268.1 M1274.9,882.5 H1276.5 V892.5 H1274.9" fill="none" stroke="#000"/>
<text class="s" x="1281.5" y="899.8" style="font-size:11.7px">n</text>
<rect x="1118.5" y="263.5" width="46" height="17" fill="#fff" stroke="#000"/>
<text class="b" text-anchor="middle" transform="translate(1141.2,277.0) scale(1.000,1.1)">DesA2</text>
<rect x="1168.5" y="263.5" width="46" height="17" fill="#fff" stroke="#000"/>
<text class="b" text-anchor="middle" transform="translate(1191.2,277.0) scale(1.000,1.1)">DesA1</text>
<rect x="1162.5" y="322.5" width="46" height="17" fill="#fff" stroke="#000"/>
<text class="b" text-anchor="middle" transform="translate(1185.8,336.0) scale(1.000,1.1)">UmaA</text>
<rect x="1162.5" y="430.5" width="46" height="17" fill="#fff" stroke="#000"/>
<text class="b" text-anchor="middle" transform="translate(1185.8,444.0) scale(1.000,1.1)">UmaA</text>
<rect x="1064.5" y="520.5" width="46" height="17" fill="#fff" stroke="#000"/>
<text class="b" text-anchor="middle" transform="translate(1087.2,534.0) scale(1.000,1.1)">MmaA2</text>
<rect x="1192.5" y="525.5" width="46" height="17" fill="#fff" stroke="#000"/>
<text class="b" text-anchor="middle" transform="translate(1215.8,539.0) scale(1.000,1.1)">PcaA</text>
<rect x="1059.5" y="591.5" width="46" height="17" fill="#fff" stroke="#000"/>
<text class="b" text-anchor="middle" transform="translate(1082.2,605.0) scale(1.000,1.1)">MmaA4</text>
<rect x="1143.5" y="582.5" width="46" height="17" fill="#fff" stroke="#000"/>
<text class="b" text-anchor="middle" transform="translate(1166.2,596.0) scale(1.000,1.1)">MmaA3</text>
<rect x="1192.5" y="591.5" width="46" height="17" fill="#fff" stroke="#000"/>
<text class="b" text-anchor="middle" transform="translate(1215.2,605.0) scale(1.000,1.1)">MmaA2</text>
<rect x="1222.5" y="630.5" width="46" height="17" fill="#fff" stroke="#000"/>
<text class="b" text-anchor="middle" transform="translate(1245.2,644.0) scale(1.000,1.1)">CmaA2</text>
<rect x="1059.5" y="656.5" width="46" height="17" fill="#fff" stroke="#000"/>
<text class="b" text-anchor="middle" transform="translate(1082.2,670.0) scale(1.000,1.1)">MmaA4</text>
<rect x="1157.5" y="656.5" width="46" height="17" fill="#fff" stroke="#000"/>
<text class="b" text-anchor="middle" transform="translate(1180.2,670.0) scale(1.000,1.1)">MmaA1</text>
<rect x="1145.5" y="698.5" width="46" height="17" fill="#fff" stroke="#000"/>
<text class="b" text-anchor="middle" transform="translate(1168.2,712.0) scale(1.000,1.1)">MmaA3</text>
<rect x="1222.5" y="696.5" width="46" height="17" fill="#fff" stroke="#000"/>
<text class="b" text-anchor="middle" transform="translate(1245.2,710.0) scale(1.000,1.1)">CmaA2</text>
<rect x="1059.5" y="727.5" width="46" height="17" fill="#fff" stroke="#000"/>
<text class="b" text-anchor="middle" transform="translate(1082.2,741.0) scale(1.000,1.1)">MmaA4</text>
<rect x="1131.5" y="727.5" width="46" height="17" fill="#fff" stroke="#000"/>
<text class="b" text-anchor="middle" transform="translate(1154.8,741.0) scale(1.000,1.1)">Fgd2</text>
<rect x="1192.5" y="727.5" width="46" height="17" fill="#fff" stroke="#000"/>
<text class="b" text-anchor="middle" transform="translate(1215.2,741.0) scale(1.000,1.1)">MmaA2</text>
<rect x="1222.5" y="764.5" width="46" height="17" fill="#fff" stroke="#000"/>
<text class="b" text-anchor="middle" transform="translate(1245.2,778.0) scale(1.000,1.1)">CmaA2</text>
<rect x="1059.5" y="790.5" width="46" height="17" fill="#fff" stroke="#000"/>
<text class="b" text-anchor="middle" transform="translate(1082.2,804.0) scale(1.000,1.1)">MmaA4</text>
<rect x="1157.5" y="790.5" width="46" height="17" fill="#fff" stroke="#000"/>
<text class="b" text-anchor="middle" transform="translate(1180.2,804.0) scale(1.000,1.1)">MmaA1</text>
<rect x="1133.5" y="830.5" width="46" height="17" fill="#fff" stroke="#000"/>
<text class="b" text-anchor="middle" transform="translate(1156.8,844.0) scale(1.000,1.1)">Fgd2</text>
<rect x="1222.5" y="833.5" width="46" height="17" fill="#fff" stroke="#000"/>
<text class="b" text-anchor="middle" transform="translate(1245.2,847.0) scale(1.000,1.1)">CmaA2</text>
<rect x="1059.5" y="857.5" width="46" height="17" fill="#fff" stroke="#000"/>
<text class="b" text-anchor="middle" transform="translate(1082.2,871.0) scale(1.000,1.1)">MmaA4</text>
</svg>
</body></html>
